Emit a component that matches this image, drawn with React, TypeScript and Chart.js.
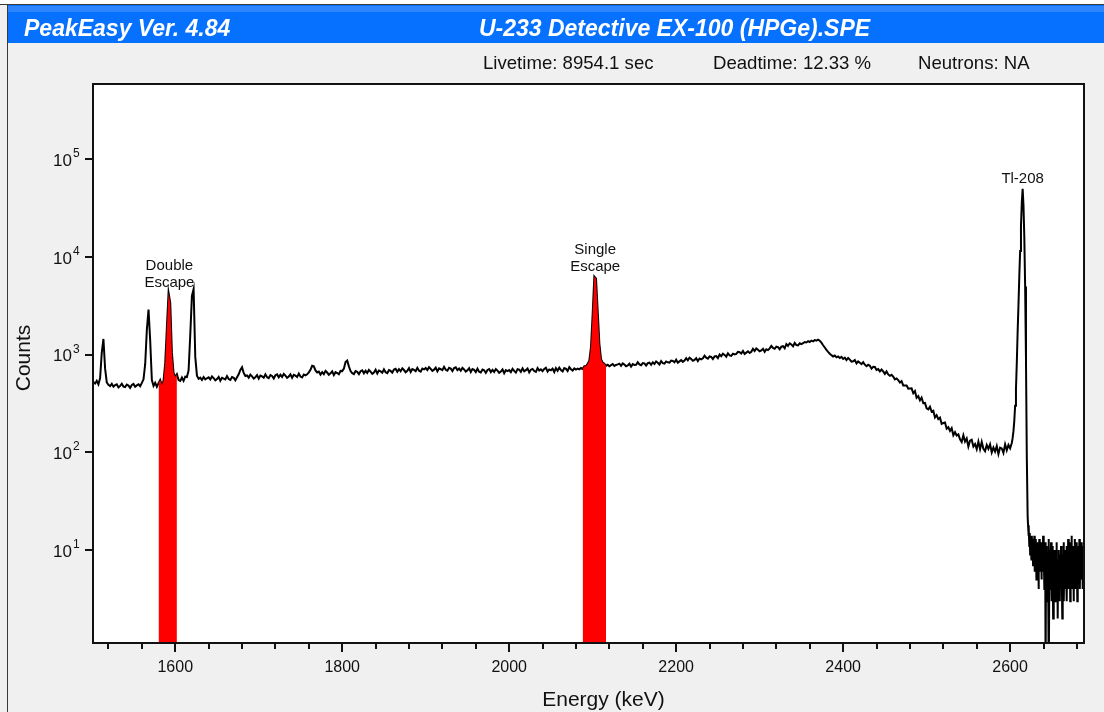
import { useEffect, useRef } from "react";
import { Chart, registerables } from "chart.js";

Chart.register(...registerables);

const FONT = '"Liberation Sans", Arial, sans-serif';

// ---- Spectrum data (counts) ----
// Low-energy peaks region: 1502..1638 keV, every 2 keV
const startA = 1502;
const stepA = 2;
const countsA = [
  525, 508, 540, 497, 575, 1050, 1450, 720, 520, 492,
  478, 503, 470, 488, 497, 462, 480, 505, 472, 466,
  495, 483, 458, 490, 502, 470, 485, 498, 476, 515,
  560, 800, 1800, 2900, 1400, 550, 480, 515, 470, 510,
  550, 490, 540, 820, 1900, 4300, 3400, 1050, 650, 590,
  630, 550, 540, 585, 540, 595, 590, 690, 1600, 4000,
  4700, 950, 610, 566, 582, 551, 590, 560, 574,
];

// Flat continuum: 1640..2080 keV, every 2 keV
const startB = 1640;
const stepB = 2;
const countsB = [
  587, 559, 599, 576, 547, 564, 593, 542, 581, 570,
  558, 604, 563, 552, 592, 581, 546, 587, 630, 700,
  745, 650, 605, 613, 583, 625, 601, 571, 589, 619,
  570, 612, 600, 582, 630, 588, 576, 618, 606, 570,
  617, 629, 587, 623, 593, 635, 611, 581, 599, 629,
  580, 622, 610, 592, 640, 598, 586, 628, 616, 630,
  660, 700, 770, 760, 690, 658, 671, 626, 664, 632,
  683, 657, 624, 644, 676, 618, 663, 650, 631, 683,
  680, 720, 840, 870, 760, 680, 647, 634, 680, 667,
  632, 678, 692, 645, 685, 652, 698, 672, 638, 658,
  702, 641, 689, 675, 655, 709, 662, 648, 695, 682,
  656, 704, 718, 669, 711, 676, 725, 697, 662, 683,
  728, 665, 714, 700, 679, 735, 686, 672, 721, 707,
  731, 696, 746, 717, 682, 703, 738, 675, 724, 710,
  694, 751, 701, 686, 736, 722, 679, 729, 744, 694,
  721, 686, 735, 707, 672, 693, 728, 665, 714, 700,
  664, 719, 671, 658, 706, 692, 651, 699, 712, 664,
  700, 666, 714, 687, 653, 673, 707, 646, 694, 680,
  697, 662, 718, 683, 656, 711, 704, 669, 725, 676,
  695, 723, 660, 702, 716, 681, 667, 730, 688, 709,
  679, 714, 735, 672, 707, 693, 721, 665, 728, 686,
  738, 696, 675, 731, 717, 682, 746, 710, 689, 724,
  705,
];

// Single escape region: 2082..2130 keV, every 2 keV
const startC = 2082;
const stepC = 2;
const countsC = [
  722, 708, 731, 715, 760, 760, 810, 870, 1200, 2600,
  6300, 6000, 2800, 1300, 900, 830, 810, 770, 790, 762,
  781, 801, 768, 785, 796,
];

// Rising continuum and Compton edge: 2132..2400 keV, every 2 keV
const startD = 2132;
const stepD = 2;
const countsD = [
  809, 769, 816, 793, 761, 777, 809, 754, 801, 785,
  789, 837, 797, 781, 821, 813, 773, 821, 829, 789,
  836, 803, 853, 828, 795, 861, 820, 811, 853, 836,
  829, 872, 864, 838, 889, 829, 855, 881, 846, 872,
  922, 877, 931, 904, 868, 886, 922, 859, 913, 895,
  921, 978, 931, 912, 959, 949, 902, 959, 968, 921,
  1005, 965, 1025, 995, 955, 1035, 985, 975, 1025, 1005,
  1019, 1071, 1061, 1029, 1092, 1019, 1050, 1082, 1040, 1071,
  1148, 1093, 1160, 1126, 1082, 1104, 1148, 1070, 1137, 1115,
  1161, 1232, 1173, 1149, 1209, 1197, 1138, 1209, 1221, 1161,
  1283, 1232, 1308, 1270, 1220, 1320, 1257, 1245, 1308, 1283,
  1310, 1350, 1335, 1375, 1350, 1395, 1370, 1410, 1395, 1425,
  1390, 1330, 1250, 1185, 1120, 1070, 1025, 990, 960, 980,
  940, 960, 925, 950, 905,
];

// Falling continuum to the valley: 2402..2602 keV, every 2 keV
const startE = 2402;
const stepE = 2;
const countsE = [
  932, 880, 926, 891, 848, 857, 884, 814, 855, 828,
  802, 840, 790, 762, 789, 770, 720, 753, 748, 699,
  712, 674, 706, 675, 636, 674, 628, 608, 623, 596,
  558, 571, 550, 519, 536, 485, 485, 484, 450, 451,
  452, 403, 424, 362, 377, 341, 364, 319, 321, 283,
  276, 293, 262, 267, 228, 240, 219, 227, 196, 200,
  202, 175, 181, 166, 177, 150, 161, 149, 153, 136,
  128, 150, 129, 139, 115, 132, 135, 115, 122, 108,
  129, 108, 128, 109, 103, 119, 109, 121, 100, 112,
  102, 116, 96, 112, 110, 99, 121, 105, 119, 110,
  125,
];

// Tl-208 photopeak: 2603..2621 keV, every 1 keV
const startF = 2603;
const stepF = 1;
const countsF = [
  140, 165, 210, 300, 440, 820, 1700, 3200, 6300, 11500,
  20500, 36000, 50000, 34000, 16000, 5000, 900, 90, 22,
];

// Tail above the photopeak: 2621.5..2688.5 keV, every 0.5 keV
const startG = 2621.5;
const stepG = 0.5;
const countsG = [
  18, 14, 17, 11, 15, 9, 13, 12, 8, 14,
  10, 13, 7, 12, 9, 14, 6, 11, 8, 13,
  5, 10, 12, 7, 11, 4, 9, 13, 6, 10,
  8, 12, 5, 9, 11, 6, 14, 7, 10, 4,
  9, 12, 0.5, 8, 6, 11, 3, 9, 7, 13,
  0.5, 6, 10, 4, 8, 12, 3, 9, 6, 11,
  2, 8, 5, 10, 7, 3, 9, 6, 12, 4,
  8, 2, 7, 10, 5, 9, 3, 8, 6, 11,
  4, 7, 2, 9, 5, 12, 3, 8, 6, 10,
  4, 7, 11, 3, 9, 5, 13, 4, 8, 6,
  12, 3, 9, 5, 14, 4, 8, 6, 11, 3,
  10, 5, 13, 7, 4, 9, 6, 12, 3, 8,
  5, 11, 7, 13, 4, 9, 6, 12, 5, 10,
  7, 4, 11, 6, 9,
];

// Regions of interest (keV)
const roiStarts = [1580, 2088];
const roiEnds = [1602, 2116];

// Peak annotations
const peakEnergies = [1593, 2103, 2615];
const peakLabels = [["Double", "Escape"], ["Single", "Escape"], ["Tl-208"]];

// Axes
const xMin = 1501.5;
const xMax = 2688.5;
const yMin = 1.12;
const yMax = 590000;
const xMajorTicks = [1600, 1800, 2000, 2200, 2400, 2600];
const xMajorLabels = ["1600", "1800", "2000", "2200", "2400", "2600"];
const xMinorTicks = [
  1520, 1560, 1640, 1680, 1720, 1760, 1840, 1880, 1920, 1960, 2040, 2080,
  2120, 2160, 2240, 2280, 2320, 2360, 2440, 2480, 2520, 2560, 2640, 2680,
];
const yTicks = [10, 100, 1000, 10000, 100000];
const yTickExponents = ["1", "2", "3", "4", "5"];

// Header texts
const appTitle = "PeakEasy Ver. 4.84";
const fileTitle = "U-233 Detective EX-100 (HPGe).SPE";
const infoTexts = ["Livetime: 8954.1 sec", "Deadtime: 12.33 %", "Neutrons: NA"];
const infoX = [483, 713, 918];

type Pt = { x: number; y: number };

function buildSpectrum(): Pt[] {
  const segs: [number, number, number[]][] = [
    [startA, stepA, countsA],
    [startB, stepB, countsB],
    [startC, stepC, countsC],
    [startD, stepD, countsD],
    [startE, stepE, countsE],
    [startF, stepF, countsF],
    [startG, stepG, countsG],
  ];
  const pts: Pt[] = [];
  for (const [s, st, vals] of segs) {
    vals.forEach((v, i) => pts.push({ x: s + i * st, y: v }));
  }
  return pts;
}

const framePlugin = {
  id: "frame",
  beforeDraw(chart: any) {
    const { ctx, width, height, chartArea: a } = chart;
    ctx.save();
    ctx.fillStyle = "#f0f0f0";
    ctx.fillRect(0, 0, width, height);
    ctx.fillStyle = "#ffffff";
    ctx.fillRect(0, 0, width, 5);
    // title bar
    ctx.fillStyle = "#0670ff";
    ctx.fillRect(8, 5, width - 8, 38);
    ctx.fillStyle = "#2d86ff";
    ctx.fillRect(8, 6, width - 8, 6);
    ctx.fillStyle = "#3a3a3a";
    ctx.fillRect(0, 4, width, 1);
    ctx.fillRect(7, 4, 1, height - 4);
    // titles
    ctx.fillStyle = "#ffffff";
    ctx.font = `italic bold 23px ${FONT}`;
    ctx.textBaseline = "alphabetic";
    ctx.textAlign = "left";
    ctx.fillText(appTitle, 24, 36);
    ctx.textAlign = "center";
    ctx.fillText(fileTitle, 674.5, 36);
    // info row
    ctx.fillStyle = "#111111";
    ctx.font = `18.6px ${FONT}`;
    ctx.textAlign = "left";
    infoTexts.forEach((t, i) => ctx.fillText(t, infoX[i], 68.5));
    // plot background
    ctx.fillStyle = "#ffffff";
    ctx.fillRect(a.left, a.top, a.right - a.left, a.bottom - a.top);
    ctx.restore();
  },
  afterDraw(chart: any) {
    const { ctx, chartArea: a, scales } = chart;
    const xs = scales.x;
    const ys = scales.y;
    ctx.save();
    ctx.strokeStyle = "#111111";
    ctx.lineWidth = 2;
    ctx.strokeRect(a.left, a.top, a.right - a.left, a.bottom - a.top);
    // x ticks
    ctx.beginPath();
    xMajorTicks.forEach((v) => {
      const px = Math.round(xs.getPixelForValue(v));
      ctx.moveTo(px, a.bottom);
      ctx.lineTo(px, a.bottom + 9);
    });
    xMinorTicks.forEach((v) => {
      const px = Math.round(xs.getPixelForValue(v));
      ctx.moveTo(px, a.bottom);
      ctx.lineTo(px, a.bottom + 6);
    });
    // y ticks
    yTicks.forEach((v) => {
      const py = Math.round(ys.getPixelForValue(v));
      ctx.moveTo(a.left - 8, py);
      ctx.lineTo(a.left, py);
    });
    ctx.stroke();
    // x labels
    ctx.fillStyle = "#111111";
    ctx.font = `16px ${FONT}`;
    ctx.textAlign = "center";
    ctx.textBaseline = "alphabetic";
    xMajorTicks.forEach((v, i) => {
      ctx.fillText(xMajorLabels[i], xs.getPixelForValue(v), a.bottom + 29);
    });
    // y labels with superscript
    yTicks.forEach((v, i) => {
      const py = ys.getPixelForValue(v);
      ctx.font = `17px ${FONT}`;
      ctx.textAlign = "right";
      ctx.fillText("10", 72, py + 6.5);
      ctx.font = `12px ${FONT}`;
      ctx.textAlign = "left";
      ctx.fillText(yTickExponents[i], 73, py - 2);
    });
    // axis titles
    ctx.font = `21px ${FONT}`;
    ctx.textAlign = "center";
    ctx.fillText("Energy (keV)", 603.5, 706);
    ctx.save();
    ctx.translate(30, 358);
    ctx.rotate(-Math.PI / 2);
    ctx.fillText("Counts", 0, 0);
    ctx.restore();
    // peak annotations
    const data: Pt[] = chart.data.datasets[2].data;
    ctx.font = `15px ${FONT}`;
    ctx.textAlign = "center";
    peakEnergies.forEach((e, i) => {
      let top = 0;
      data.forEach((p) => {
        if (Math.abs(p.x - e) <= 3 && p.y > top) top = p.y;
      });
      const px = xs.getPixelForValue(e);
      const py = ys.getPixelForValue(top);
      const lines = peakLabels[i];
      lines.forEach((l, j) => {
        const base = py - 6 - (lines.length - 1 - j) * 17;
        ctx.fillText(l, px, base);
      });
    });
    ctx.restore();
  },
};

export default function App() {
  const ref = useRef<HTMLCanvasElement | null>(null);
  useEffect(() => {
    document.body.style.margin = "0";
    const canvas = ref.current;
    if (!canvas) return;
    const spectrum = buildSpectrum();
    const roiData = roiStarts.map((s, i) =>
      spectrum.filter((p) => p.x >= s && p.x <= roiEnds[i])
    );
    const chart = new Chart(canvas, {
      type: "line",
      data: {
        datasets: [
          ...roiData.map((d) => ({
            data: d,
            borderWidth: 0,
            borderColor: "rgba(0,0,0,0)",
            backgroundColor: "#ff0000",
            fill: "start",
            pointRadius: 0,
            order: 0,
          })),
          {
            data: spectrum,
            borderColor: "#000000",
            borderWidth: 2,
            pointRadius: 0,
            fill: false,
            tension: 0,
            order: 1,
          },
        ],
      } as any,
      options: {
        responsive: false,
        animation: false,
        devicePixelRatio: 1,
        parsing: false,
        normalized: true,
        layout: { padding: { top: 84, right: 20, left: 0, bottom: 0 } },
        plugins: {
          legend: { display: false },
          tooltip: { enabled: false },
        },
        scales: {
          x: {
            type: "linear",
            min: xMin,
            max: xMax,
            bounds: "data",
            ticks: { display: false },
            grid: { display: false },
            border: { display: false },
            afterFit: (s: any) => {
              s.height = 69;
            },
          },
          y: {
            type: "logarithmic",
            min: yMin,
            max: yMax,
            bounds: "data",
            ticks: { display: false },
            grid: { display: false },
            border: { display: false },
            afterFit: (s: any) => {
              s.width = 93;
            },
          },
        },
      } as any,
      plugins: [framePlugin],
    });
    return () => chart.destroy();
  }, []);
  return (
    <canvas
      ref={ref}
      width={1104}
      height={712}
      style={{ display: "block", width: 1104, height: 712 }}
    />
  );
}
